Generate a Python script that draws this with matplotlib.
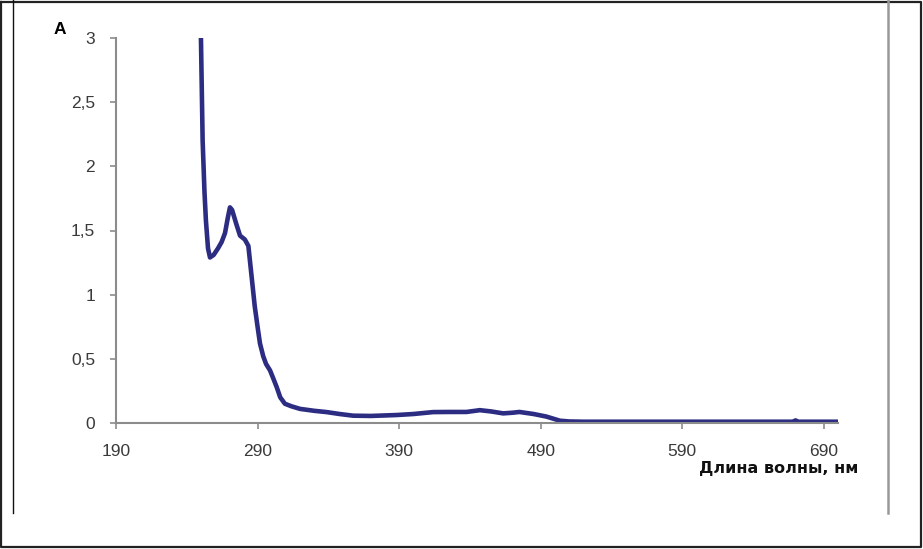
import numpy as np
import matplotlib
matplotlib.use('Agg')
import matplotlib.pyplot as plt
from matplotlib.lines import Line2D
from matplotlib.ticker import FuncFormatter

plt.rcParams['font.family'] = ['Liberation Sans', 'DejaVu Sans']

# spectrum
wavelength = [250, 251.2, 252.5, 253.5, 255, 256.4, 259, 262, 264.6, 267, 269, 270.5,
              272, 275, 277.6, 281, 283.5, 285.8, 288, 290, 291.7, 294, 296, 298.8,
              301, 303.5, 306, 309.3, 314, 320, 330, 338.8, 348, 357.5, 370, 388,
              400, 414, 425, 437.6, 447, 455, 463.5, 470, 475, 485, 494, 503.5,
              510, 520, 560, 600, 640, 668, 670, 672, 700]
absorb = [3.0, 2.2, 1.8, 1.58, 1.36, 1.29, 1.31, 1.36, 1.41, 1.48, 1.6, 1.68,
          1.66, 1.55, 1.46, 1.43, 1.38, 1.14, 0.91, 0.75, 0.62, 0.52, 0.46, 0.41,
          0.35, 0.28, 0.2, 0.15, 0.13, 0.11, 0.095, 0.085, 0.07, 0.057, 0.055, 0.062,
          0.07, 0.085, 0.086, 0.086, 0.1, 0.09, 0.075, 0.08, 0.086, 0.07, 0.05, 0.018,
          0.012, 0.01, 0.01, 0.01, 0.01, 0.01, 0.02, 0.01, 0.01]

x_ticks = [190, 290, 390, 490, 590, 690]
y_ticks = [0, 0.5, 1, 1.5, 2, 2.5, 3]

W, H = 923, 549
fig = plt.figure(figsize=(W / 100, H / 100), dpi=100)
ax = fig.add_axes([116 / W, 1 - 423 / H, (838 - 116) / W, (423 - 38) / H])

ax.plot(wavelength, absorb, color='#2c2c82', lw=3.3, solid_joinstyle='round')

ax.set_xlim(190, 700)
ax.set_ylim(0, 3)
ax.set_xticks(x_ticks)
ax.set_yticks(y_ticks)
ax.yaxis.set_major_formatter(FuncFormatter(lambda v, p: ('%g' % v).replace('.', ',')))

for s in ['top', 'right']:
    ax.spines[s].set_visible(False)
for s in ['left', 'bottom']:
    ax.spines[s].set_color('#8c8c8c')
    ax.spines[s].set_linewidth(1.5)
ax.tick_params(colors='#8c8c8c', length=4.5, width=1.2, labelcolor='#3a3a3a',
               labelsize=12.5)
ax.tick_params(axis='x', pad=10.5)
ax.tick_params(axis='y', pad=10.5)

fig.text(60 / W, 1 - 29 / H, 'A', fontsize=12.5, fontweight='bold', ha='center', va='center')
fig.text(858 / W, 1 - 469 / H, 'Длина волны, нм', fontsize=11.5, fontweight='bold',
         family=['DejaVu Sans'], ha='right', va='center', color='#111111')

# frame lines around the picture
fig.add_artist(Line2D([1 / W, 921 / W, 921 / W, 1 / W, 1 / W],
                      [1 - 1.5 / H, 1 - 1.5 / H, 1 - 547 / H, 1 - 547 / H, 1 - 1.5 / H],
                      transform=fig.transFigure, color='#222222', lw=1.6))
fig.add_artist(Line2D([13 / W, 13 / W], [1, 1 - 513 / H],
                      transform=fig.transFigure, color='#111111', lw=1.0))
fig.add_artist(Line2D([888 / W, 888 / W], [1, 1 - 513 / H],
                      transform=fig.transFigure, color='#999999', lw=1.8))

fig.savefig('out.png', dpi=100)
